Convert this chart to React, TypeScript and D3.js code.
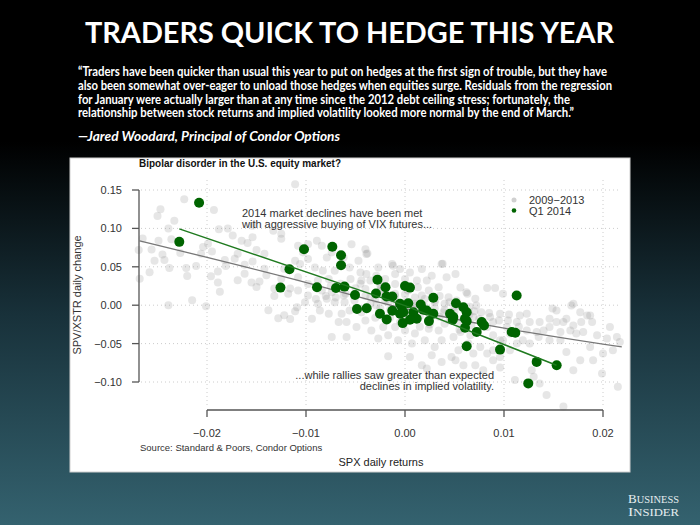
import React from 'react';
import * as d3 from 'd3';

const xTicks = [-0.02, -0.01, 0, 0.01, 0.02];
const yTicks = [-0.1, -0.05, 0, 0.05, 0.1, 0.15];

const quoteLines = [
  '“Traders have been quicker than usual this year to put on hedges at the first sign of trouble, but they have',
  'also been somewhat over-eager to unload those hedges when equities surge. Residuals from the regression',
  'for January were actually larger than at any time since the 2012 debt ceiling stress; fortunately, the',
  'relationship between stock returns and implied volatility looked more normal by the end of March.”',
];
const attribution = '—Jared Woodard, Principal of Condor Options';

// 2009–2013 daily observations [SPX return, SPV/XSTR change]
const hist2009_2013: [number, number][] = [
  [-0.0223,0.138],[-0.0247,0.125],[-0.025,0.116],[-0.0233,0.11],[-0.0193,0.124],[-0.0239,0.1],[-0.0188,0.099],[-0.0179,0.1],
  [-0.0265,0.087],[-0.0249,0.084],[-0.0236,0.086],[-0.0256,0.0725],[-0.0245,0.066],[-0.0253,0.058],[-0.0243,0.059],[-0.0227,0.068],
  [-0.0204,0.0757],[-0.0199,0.08],[-0.0195,0.07],[-0.0206,0.067],[-0.0211,0.051],[-0.0221,0.0485],[-0.0238,0.0485],[-0.0258,0.043],
  [-0.0268,0.0346],[-0.022,0.038],[-0.0189,0.044],[-0.0196,0.0376],[-0.0189,0.0294],[-0.0174,0.0907],[-0.0165,0.084],[-0.0159,0.081],
  [-0.0154,0.0886],[-0.015,0.072],[-0.0142,0.067],[-0.0169,0.067],[-0.0172,0.0605],[-0.0182,0.059],[-0.0181,0.051],[-0.0162,0.0527],
  [-0.0154,0.057],[-0.0142,0.0475],[-0.014,0.039],[-0.0162,0.041],[-0.0169,0.0324],[-0.0155,0.0294],[-0.015,0.0238],[-0.0147,0.031],
  [-0.0187,0.0174],[-0.0201,-0.0013],[-0.0239,0.0],[-0.0215,0.0065],[-0.0132,0.012],[-0.0138,-0.0065],[-0.0128,-0.017],[-0.0122,-0.013],
  [-0.0116,-0.018],[-0.0111,-0.0078],[-0.0125,0.0346],[-0.0125,0.0864],[-0.0111,0.058],[-0.0111,0.1576],[-0.0122,0.0475],[-0.0116,0.0216],
  [-0.0118,0.015],[-0.0132,0.0216],[-0.0154,0.1036],[-0.0125,0.093],[-0.0269,0.072],[-0.0133,0.0968],
  [-0.0098,0.0795],[-0.0089,0.0838],[-0.0084,0.0773],[-0.0079,0.0622],[-0.0098,0.0601],[-0.0106,0.0536],[-0.0091,0.0492],[-0.0083,0.045],
  [-0.0071,0.045],[-0.0054,0.0795],[-0.0039,0.0666],[-0.0056,0.0492],[-0.0045,0.0427],[-0.0039,0.0407],[-0.0027,0.0492],[-0.0013,0.0536],
  [-0.001,0.0407],[-0.0005,0.0471],[0.0005,0.0427],[0.0017,0.0471],[0.0027,0.0385],[0.0037,0.0536],[0.0022,0.032],[0.0012,0.032],
  [0.0,0.0342],[-0.001,0.0277],[-0.002,0.0342],[-0.0029,0.0385],[-0.0035,0.032],[-0.0044,0.032],[-0.0077,0.0342],[-0.0088,0.032],
  [-0.0098,0.0277],[-0.0108,0.0363],[-0.0108,0.019],[-0.0098,0.0126],[-0.0084,0.019],[-0.0074,0.0168],[-0.0062,0.0126],[-0.004,0.0212],
  [-0.0035,0.0104],[-0.0051,0.0061],[-0.0061,0.0039],[-0.0071,0.0039],[-0.0079,0.0083],[-0.0088,0.0018],[-0.0101,0.0039],[-0.0109,-0.0026],
  [-0.0086,-0.0069],[-0.0094,-0.0176],[-0.0077,-0.0111],[-0.0064,-0.0111],[-0.0056,-0.0069],[-0.0044,-0.0091],[-0.0029,-0.0004],[-0.003,-0.0163],
  [-0.004,-0.0198],[-0.0049,-0.0285],[-0.0059,-0.022],[-0.0067,-0.022],[-0.0074,-0.0415],[-0.0059,-0.0415],[-0.0034,-0.0328],[-0.0022,-0.0285],
  [-0.001,-0.0285],[0.0,-0.0328],[0.001,-0.037],[0.0024,-0.0306],[0.0034,-0.0328],[0.004,-0.0241],[-0.0003,-0.0198],[-0.0017,-0.0392],
  [-0.0027,-0.0435],[-0.0007,-0.0457],[0.0007,-0.05],[0.002,-0.0457],[0.003,-0.0544],[0.0037,-0.0457],[0.0027,-0.0652],[0.0017,-0.0781],
  [0.0005,-0.0674],[-0.0017,-0.0665],[0.0037,-0.0738],[0.0047,-0.0674],[0.0022,-0.0824],[0.0042,0.0363],[0.0044,0.0104],[0.0039,-0.0091],
  [0.002,-0.0069],[0.001,-0.0004],[-0.0017,0.0039],[-0.0024,0.0233],[-0.001,0.0148],[0.0003,0.019],[0.0013,0.0233],[0.0024,0.019],
  [0.0034,0.0233],[0.003,0.0039],[0.0017,0.0126],[-0.0074,0.0687],[-0.0062,0.0622],[-0.0047,0.0579],[-0.0103,0.0687],[-0.0108,0.0773],
  [-0.004,0.073],[-0.0038,0.0674],[-0.0012,0.0514],
  [0.0051,0.0407],[0.0062,0.0168],[0.0071,0.0083],[0.0083,0.0225],[0.0091,0.0225],[0.0052,0.0061],[0.0072,-0.0004],[0.0077,-0.0091],
  [0.0086,-0.0155],[0.0096,-0.0111],[0.0104,-0.0198],[0.0116,-0.0133],[0.0126,-0.022],[0.0136,-0.022],[0.0146,-0.0176],[0.0153,-0.0069],
  [0.0168,-0.0004],[0.0177,-0.0091],[0.0187,-0.0133],[0.0189,-0.022],[0.018,-0.035],[0.0194,-0.0392],[0.0204,-0.0435],[0.0214,-0.0414],
  [0.0217,-0.0479],[0.021,-0.0587],[0.02,-0.063],[0.019,-0.0716],[0.0177,-0.0716],[0.0163,-0.0609],[0.0157,-0.0457],[0.0146,-0.0457],
  [0.0135,-0.0414],[0.0126,-0.05],[0.0119,-0.0457],[0.0113,-0.05],[0.0106,-0.0587],[0.0096,-0.0674],[0.0089,-0.0716],[0.0083,-0.063],
  [0.0076,-0.0544],[0.0069,-0.063],[0.0064,-0.05],[0.0054,-0.0587],[0.0051,-0.0716],[0.0059,-0.0781],[0.0071,-0.0781],[0.0079,-0.0846],
  [0.0089,-0.0587],[0.0096,-0.0811],[0.0099,-0.0457],[0.0106,-0.037],[0.0123,-0.0328],[0.0133,-0.035],[0.014,-0.0328],[0.0157,-0.035],
  [0.0167,-0.0328],[0.0146,-0.0285],[0.016,-0.022],[0.017,-0.0263],[0.013,-0.0933],[0.0136,-0.1018],[0.0128,-0.0846],[0.0143,-0.117],
  [0.016,-0.132],[0.0111,-0.0975],[0.017,-0.0846],[0.0199,-0.0889],[0.0187,-0.0544],[0.0215,-0.1062],[0.0207,-0.0285],[0.0173,-0.037],
  [0.0153,-0.022],[0.0123,-0.0111],[0.0113,-0.022],[0.0103,-0.0285],[0.0089,-0.022],[0.0083,-0.0285],[0.0067,-0.0263],[0.0066,-0.0392],
  [0.0056,-0.035],[0.0049,-0.0414],[0.0069,-0.0155],[0.0059,-0.0176],[0.0089,-0.0392],[0.0096,-0.0457],[0.0178,-0.022],[0.0163,-0.0176],
  [0.0038,0.054],[0.0056,0.023],[0.0063,0.015],[0.0099,0.015],[0.0149,-0.0043],[0.0184,-0.0133],[0.017,0.002],
  [-0.004,0.012],[-0.003,0.008],[-0.002,0.005],[-0.001,0.006],[0.0,0.004],[0.001,0.002],[0.002,-0.002],[0.003,-0.004],
  [0.004,-0.006],[0.005,-0.008],[-0.0035,0.002],[-0.0025,-0.004],[-0.0015,-0.006],[-0.0005,-0.01],[0.0005,-0.012],[0.0015,-0.014],
  [0.0025,-0.012],[0.0035,-0.015],[0.0045,-0.02],[0.0055,-0.022],[0.0065,-0.012],[0.0075,-0.018],[-0.002,0.016],[-0.001,0.012],
  [0.0,0.014],[0.001,0.01],[0.002,0.008],[0.003,0.006],[0.004,0.002],[0.005,-0.002],[0.006,-0.005],[0.007,-0.008],
  [-0.006,0.015],[-0.005,0.022],[-0.007,0.01],[-0.008,0.012],[-0.009,0.008],[0.0085,-0.01],[0.0095,-0.02],[0.0105,-0.012],
  [0.0115,-0.028],[-0.0045,0.028],[-0.0025,0.018],[0.0035,0.012],[0.0045,0.004],[0.0025,-0.025],[0.0015,-0.028],[-0.0005,-0.022],
  [-0.0015,-0.016],[0.0055,-0.032],[0.0065,-0.002],[-0.0065,0.028],[-0.0055,0.034],[-0.0075,0.025],[-0.0025,0.026],[0.0008,-0.006],
];

// Q1 2014 daily observations
const q1_2014: [number, number][] = [
  [-0.0208,0.1334],[-0.0228,0.0825],[-0.01167,0.0469],[-0.0102,0.0728],[-0.00734,0.076],[-0.00646,0.065],[-0.00646,0.0521],[-0.01258,0.0229],
  [-0.00889,0.0233],[-0.00697,0.0225],[-0.00611,0.0242],[-0.00505,0.0132],[-0.00278,0.0333],[-0.00197,0.0233],[-0.00293,0.0152],[-0.00187,0.0113],
  [-0.00128,0.0113],[0.0,0.0251],[0.0005,0.0229],[-0.00485,-0.0049],[-0.00387,-0.0039],[-0.00253,-0.0111],[-0.00185,-0.0185],[-0.00128,-0.0073],
  [-0.00033,-0.0017],[0.00033,0.0026],[-0.00017,-0.0091],[0.00084,-0.0091],[0.00118,-0.0176],[0.0005,-0.0189],[-0.00023,-0.0233],[0.00159,0.0009],
  [0.00219,-0.0069],[0.00242,-0.0207],[-0.0005,0.0018],[0.00286,0.0096],[0.00185,-0.006],[-0.0005,-0.0111],[0.00286,-0.0111],[0.00515,0.0026],
  [0.00589,-0.0026],[0.00623,-0.0091],[0.00455,-0.0111],[0.00488,-0.0155],[0.00482,-0.0189],[0.00606,-0.0176],[0.00623,-0.0207],[0.00775,-0.022],
  [0.00798,-0.0263],[0.00606,-0.0293],[0.00724,-0.035],[0.01078,-0.035],[0.01114,-0.0358],[0.00623,-0.0535],[0.0096,-0.0578],[0.0133,-0.0738],
  [0.01532,-0.0781],[0.01245,-0.1018],[0.01128,0.0126],
];

const histFit: [number, number][] = [
  [-0.0268, 0.0838], [-0.0108, 0.0324], [-0.0005, -0.003], [0.0079, -0.025], [0.0219, -0.0544],
];
const q1Fit: [number, number][] = [
  [-0.0228, 0.0994], [0.0, -0.0005], [0.0153, -0.0781],
];

export default function App() {
  const x = d3.scaleLinear().domain([-0.02, 0.02]).range([207, 603]);
  const y = d3.scaleLinear().domain([-0.1, 0.15]).range([382, 190]);
  const fmt = d3.format('.2f');
  const plotL = 141, plotR = 621, plotT = 180, plotB = 407;
  const histLine = d3.line<[number, number]>().x(d => x(d[0])).y(d => y(d[1])).curve(d3.curveMonotoneX);
  const q1Line = d3.line<[number, number]>().x(d => x(d[0])).y(d => y(d[1]));
  const chartFont = '"Liberation Sans", Arial, Helvetica, sans-serif';
  const slideFont = 'Lato, "Open Sans", sans-serif';
  const serif = '"Liberation Serif", "DejaVu Serif", serif';

  return (
    <svg width={700} height={525} style={{ position: 'absolute', left: 0, top: 0, display: 'block' }}>
      <defs>
        <linearGradient id="bg" x1="0" y1="0" x2="0" y2="1">
          <stop offset="0" stopColor="#000000" />
          <stop offset="0.27" stopColor="#000000" />
          <stop offset="0.6" stopColor="#18313a" />
          <stop offset="1" stopColor="#34626f" />
        </linearGradient>
      </defs>
      <rect x={0} y={0} width={700} height={525} fill="url(#bg)" />

      <text x={349.5} y={43} textAnchor="middle" fill="#fff" fontFamily={slideFont} fontWeight={700}
        fontSize={29} textLength={529} lengthAdjust="spacingAndGlyphs">TRADERS QUICK TO HEDGE THIS YEAR</text>

      {quoteLines.map((t, i) => (
        <text key={i} x={78} y={[76, 90, 103.5, 117][i]} fill="#fff" fontFamily={slideFont} fontWeight={700}
          fontSize={12.5} textLength={[529, 534, 492, 496][i]} lengthAdjust="spacingAndGlyphs">{t}</text>
      ))}
      <text x={78} y={141} fill="#fff" fontFamily={slideFont} fontWeight={700} fontStyle="italic"
        fontSize={14} textLength={262} lengthAdjust="spacingAndGlyphs">{attribution}</text>

      <rect x={70} y={158} width={560} height={314} fill="#fff" stroke="#cfcfcf" strokeWidth={1} />

      <text x={139} y={167} fontFamily={chartFont} fontWeight={700} fontSize={10.5} fill="#111"
        textLength={202} lengthAdjust="spacingAndGlyphs">Bipolar disorder in the U.S. equity market?</text>

      {/* grid */}
      {yTicks.map(t => (
        <line key={'gy' + t} x1={plotL} x2={plotR} y1={y(t)} y2={y(t)} stroke="#cccccc" strokeWidth={1} strokeDasharray="1,3" />
      ))}
      {xTicks.map(t => (
        <line key={'gx' + t} x1={x(t)} x2={x(t)} y1={plotT} y2={plotB} stroke="#cccccc" strokeWidth={1} strokeDasharray="1,3" />
      ))}

      {/* points */}
      <g>
        {hist2009_2013.map((d, i) => (
          <circle key={'h' + i} cx={x(d[0])} cy={y(d[1])} r={4} fill="#8c8c8c" fillOpacity={0.22} />
        ))}
      </g>
      <path d={histLine(histFit) || ''} fill="none" stroke="#777777" strokeWidth={1.3} />
      <g>
        {q1_2014.map((d, i) => (
          <circle key={'q' + i} cx={x(d[0])} cy={y(d[1])} r={5} fill="#006400" />
        ))}
      </g>
      <path d={q1Line(q1Fit) || ''} fill="none" stroke="#1f7a1f" strokeWidth={1.5} />

      {/* axes */}
      <line x1={139} x2={139} y1={y(0.15)} y2={y(-0.1)} stroke="#555" strokeWidth={1.3} />
      {yTicks.map(t => (
        <g key={'yt' + t}>
          <line x1={132} x2={139} y1={y(t)} y2={y(t)} stroke="#555" strokeWidth={1.3} />
          <text x={122} y={y(t) + 4} textAnchor="end" fontFamily={chartFont} fontSize={11} fill="#333">{fmt(t)}</text>
        </g>
      ))}
      <line x1={x(-0.02)} x2={x(0.02)} y1={410} y2={410} stroke="#555" strokeWidth={1.3} />
      {xTicks.map(t => (
        <g key={'xt' + t}>
          <line x1={x(t)} x2={x(t)} y1={410} y2={417} stroke="#555" strokeWidth={1.3} />
          <text x={x(t)} y={437} textAnchor="middle" fontFamily={chartFont} fontSize={11} fill="#333">{fmt(t)}</text>
        </g>
      ))}

      <text transform="translate(81,295) rotate(-90)" textAnchor="middle" fontFamily={chartFont} fontSize={11} fill="#333">SPV/XSTR daily change</text>
      <text x={381} y={466} textAnchor="middle" fontFamily={chartFont} fontSize={11} fill="#222">SPX daily returns</text>
      <text x={140} y={451} fontFamily={chartFont} fontSize={9.5} fill="#333">Source: Standard &amp; Poors, Condor Options</text>

      {/* annotations */}
      <text x={242} y={217} fontFamily={chartFont} fontSize={11} fill="#333">2014 market declines have been met</text>
      <text x={242} y={228} fontFamily={chartFont} fontSize={11} fill="#333">with aggressive buying of VIX futures...</text>
      <text x={494} y={379} textAnchor="end" fontFamily={chartFont} fontSize={11} fill="#333">...while rallies saw greater than expected</text>
      <text x={494} y={390} textAnchor="end" fontFamily={chartFont} fontSize={11} fill="#333">declines in implied volatility.</text>

      {/* legend */}
      <circle cx={514} cy={200} r={2.5} fill="#d0d0d0" />
      <text x={529} y={204} fontFamily={chartFont} fontSize={11} fill="#333">2009−2013</text>
      <circle cx={514} cy={210.5} r={2.3} fill="#006400" />
      <text x={529} y={215} fontFamily={chartFont} fontSize={11} fill="#333">Q1 2014</text>

      {/* logo */}
      <text fontFamily={serif} fill="#e6eef0" fontSize={10}>
        <tspan x={628} y={503} textLength={51} lengthAdjust="spacingAndGlyphs"><tspan fontSize={12.5}>B</tspan>USINESS</tspan>
        <tspan x={628} y={516} textLength={51} lengthAdjust="spacingAndGlyphs"><tspan fontSize={12.5}>I</tspan>NSIDER</tspan>
      </text>
    </svg>
  );
}
